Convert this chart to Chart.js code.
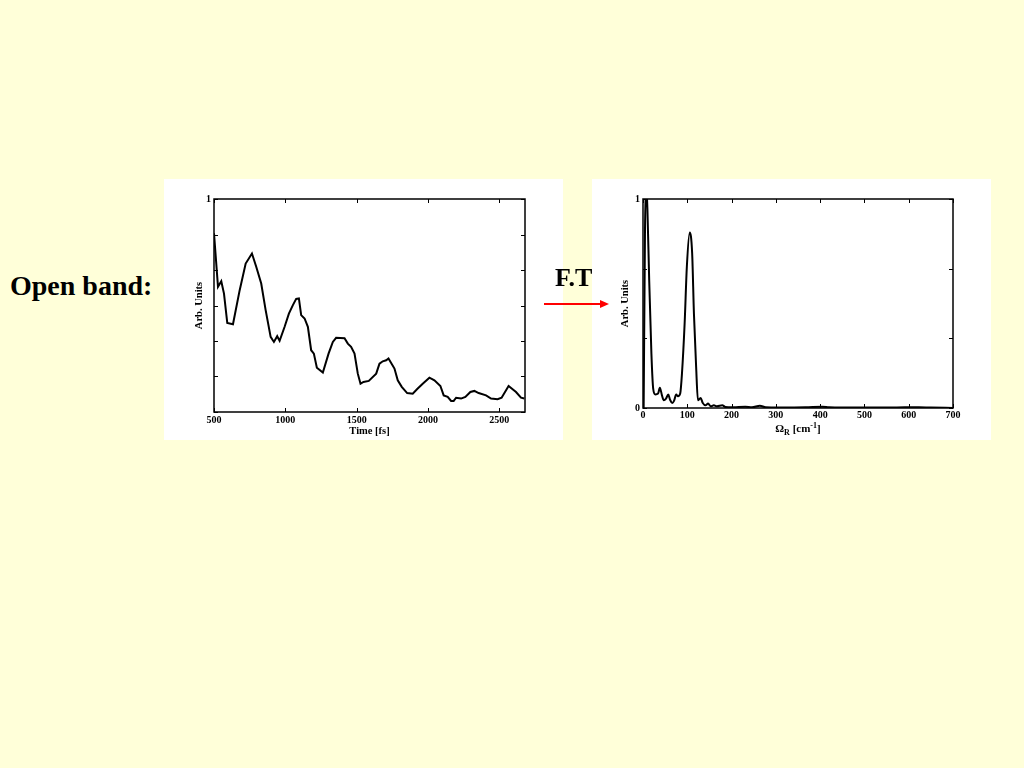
<!DOCTYPE html>
<html>
<head>
<meta charset="utf-8">
<script src="https://cdn.jsdelivr.net/npm/chart.js@4.4.1/dist/chart.umd.min.js"></script>
<style>
html,body{margin:0;padding:0;background:#FFFFD9;width:1024px;height:768px;overflow:hidden;font-family:"Liberation Serif","Times New Roman",serif;}
.panel{position:absolute;background:#ffffff;}
#p1{left:164px;top:179px;width:399px;height:261px;}
#p2{left:592px;top:179px;width:399px;height:261px;}
.lbl{position:absolute;font-weight:bold;color:#000;white-space:nowrap;line-height:1;}
#arrow{position:absolute;left:544px;top:297px;width:66px;height:14px;}
</style>
</head>
<body>
<div class="panel" id="p1"><canvas id="c1" width="399" height="261"></canvas></div>
<div class="panel" id="p2"><canvas id="c2" width="399" height="261"></canvas></div>
<div class="lbl" style="left:10px;top:272px;font-size:28px;">Open band:</div>
<div class="lbl" style="left:555px;top:265px;font-size:26px;">F.T</div>
<svg id="arrow" width="66" height="14" viewBox="0 0 66 14">
  <line x1="0" y1="7" x2="58" y2="7" stroke="#FF0000" stroke-width="2"/>
  <polygon points="56,3 65,7 56,11" fill="#FF0000"/>
</svg>
<div class="lbl" style="left:748px;top:423px;width:100px;text-align:center;font-size:11px;">Ω<span style="font-size:8px;position:relative;top:3px;">R</span> [cm<span style="font-size:8px;position:relative;top:-4px;">-1</span>]</div>

<script>
// ---- Left panel: time-domain signal ----
const timeFs = [500,528,551,570,593,633,680,722,766,796,831,862,897,920,943,960,995,1025,1053,1076,1095,1111,1135,1158,1181,1200,1221,1263,1303,1333,1356,1415,1438,1461,1485,1508,1527,1548,1585,1637,1660,1683,1707,1723,1765,1788,1816,1854,1893,1928,1963,2010,2045,2087,2110,2138,2162,2180,2197,2232,2262,2297,2325,2355,2407,2442,2488,2516,2565,2617,2652,2675];
const signal = [0.839,0.588,0.614,0.556,0.418,0.412,0.572,0.697,0.744,0.682,0.603,0.478,0.353,0.329,0.356,0.334,0.400,0.462,0.502,0.531,0.533,0.455,0.439,0.400,0.290,0.274,0.208,0.185,0.274,0.329,0.348,0.346,0.321,0.306,0.274,0.180,0.133,0.141,0.146,0.180,0.227,0.238,0.243,0.251,0.204,0.149,0.118,0.089,0.086,0.110,0.133,0.161,0.149,0.122,0.078,0.071,0.052,0.052,0.067,0.063,0.071,0.094,0.099,0.089,0.078,0.063,0.060,0.067,0.122,0.094,0.067,0.063];
const xTicks1 = [500,1000,1500,2000,2500];
const yTicks1 = [0,0.1667,0.3333,0.5,0.6667,0.8333,1];
const yTickLabels1 = ['','','','','','','1'];

// ---- Right panel: Fourier transform ----
const omegaR = [1.5,4.5,7,10,14,19,23,28,34,38,43,47,52,57,61,66,70,75,79,84,88,94,99,105.5,111,115,120,124,130,135,141,147,153,160,167,179,186,201,216,231,246,264,277,307,367,405,420,488,560,623,650,700];
const spectrum = [0,0.85,1.08,0.95,0.61,0.26,0.093,0.065,0.069,0.097,0.059,0.037,0.045,0.064,0.040,0.024,0.034,0.064,0.056,0.069,0.165,0.404,0.676,0.840,0.74,0.452,0.196,0.037,0.048,0.024,0.013,0.021,0.008,0.013,0.008,0.013,0.005,0.003,0.005,0.006,0.003,0.011,0.003,0.002,0.003,0.006,0.004,0.002,0.002,0.004,0.002,0];
const xTicks2 = [0,100,200,300,400,500,600,700];
const yTicks2 = [0,0.3333,0.6667,1];
const yTickLabels2 = ['0','','','1'];

const serif = '"Liberation Serif","Times New Roman",serif';

const frameTicks = {
  id: 'frameTicks',
  afterDatasetsDraw(chart) {
    const {ctx, chartArea: {left, right, top, bottom}, scales: {x, y}} = chart;
    const L = 4;
    ctx.save();
    ctx.strokeStyle = '#000';
    ctx.lineWidth = 1;
    ctx.beginPath();
    x.ticks.forEach(t => {
      const px = Math.round(x.getPixelForValue(t.value)) + 0.5;
      ctx.moveTo(px, bottom); ctx.lineTo(px, bottom - L);
      ctx.moveTo(px, top); ctx.lineTo(px, top + L);
    });
    y.ticks.forEach(t => {
      const py = Math.round(y.getPixelForValue(t.value)) + 0.5;
      ctx.moveTo(left, py); ctx.lineTo(left + L, py);
      ctx.moveTo(right, py); ctx.lineTo(right - L, py);
    });
    ctx.stroke();
    ctx.lineWidth = 1.5;
    ctx.strokeRect(left, top, right - left, bottom - top);
    ctx.restore();
  }
};

function makeChart(id, xs, ys, o) {
  return new Chart(document.getElementById(id), {
    type: 'line',
    data: {
      datasets: [{
        data: xs.map((v, i) => ({x: v, y: ys[i]})),
        borderColor: '#000',
        borderWidth: 2,
        pointRadius: 0,
        fill: false,
        tension: o.tension,
        cubicInterpolationMode: o.mono ? 'monotone' : 'default'
      }]
    },
    options: {
      responsive: false,
      animation: false,
      layout: {padding: {top: 20, right: 38, left: 0, bottom: 0}},
      plugins: {legend: {display: false}, tooltip: {enabled: false}},
      scales: {
        x: {
          type: 'linear', min: o.xmin, max: o.xmax,
          grid: {display: false, drawTicks: false},
          border: {display: false},
          afterBuildTicks: s => { s.ticks = o.xTicks.map(v => ({value: v})); },
          afterFit: s => { s.height = o.xh; },
          ticks: {color: '#000', padding: o.xpad, maxRotation: 0, autoSkip: false,
                  font: {family: serif, size: 10, weight: 'bold'},
                  callback: v => String(v)},
          title: {display: !!o.xTitle, text: o.xTitle || '', color: '#000',
                  font: {family: serif, size: 10.5, weight: 'bold'}, padding: {top: 0, bottom: 2}}
        },
        y: {
          type: 'linear', min: 0, max: 1,
          grid: {display: false, drawTicks: false},
          border: {display: false},
          afterBuildTicks: s => { s.ticks = o.yTicks.map(v => ({value: v})); },
          afterFit: s => { s.width = o.yw; },
          ticks: {color: '#000', padding: 3, autoSkip: false,
                  font: {family: serif, size: 10, weight: 'bold'},
                  callback: (v, i) => o.yLabels[i]},
          title: {display: true, text: 'Arb. Units', color: '#000',
                  font: {family: serif, size: 10.5, weight: 'bold'}, padding: {top: o.ytpad, bottom: 0}}
        }
      }
    },
    plugins: [frameTicks]
  });
}

makeChart('c1', timeFs, signal, {
  xmin: 500, xmax: 2680, xTicks: xTicks1, yTicks: yTicks1, yLabels: yTickLabels1,
  xh: 28, yw: 50, xpad: 2, ytpad: 28.7, xTitle: 'Time [fs]', tension: 0, mono: false
});
makeChart('c2', omegaR, spectrum, {
  xmin: 0, xmax: 700, xTicks: xTicks2, yTicks: yTicks2, yLabels: yTickLabels2,
  xh: 32, yw: 51, xpad: 1, ytpad: 26.7, xTitle: '', tension: 0.4, mono: true
});
</script>
</body>
</html>
